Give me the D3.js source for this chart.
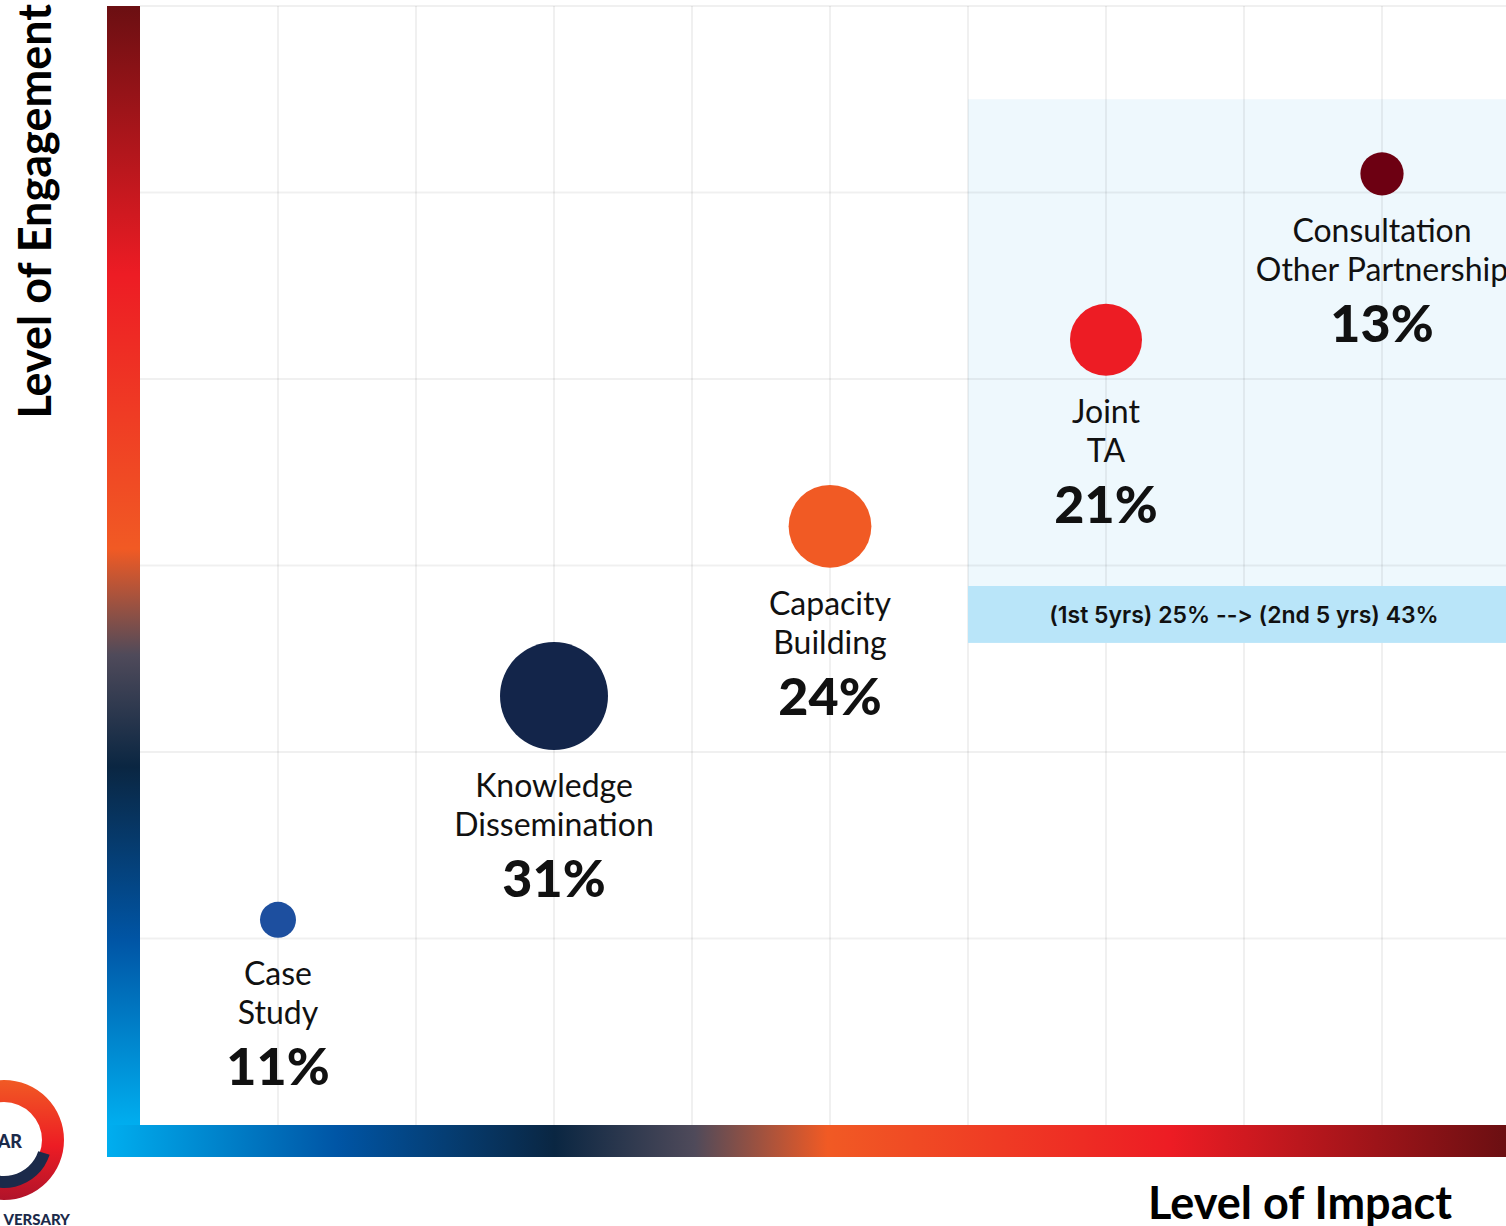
<!DOCTYPE html>
<html>
<head>
<meta charset="utf-8">
<script src="https://cdn.jsdelivr.net/npm/d3@7"></script>
<style>
  html, body { margin: 0; padding: 0; background: #fff; overflow: hidden; }
  svg { display: block; }
</style>
</head>
<body>
<svg width="1506" height="1226"></svg>
<script>
// data
var categories = [["Case", "Study"], ["Knowledge", "Dissemination"], ["Capacity", "Building"], ["Joint", "TA"], ["Consultation", "Other Partnership"]];
var impact = [1, 3, 5, 7, 9];
var engagement = [1.1, 2.3, 3.21, 4.21, 5.1];
var share = [11, 31, 24, 21, 13];
var colors = ["#1d4f9f", "#13254a", "#f15a24", "#ed1c24", "#6d0012"];
var bannerText = "(1st 5yrs) 25% --> (2nd 5 yrs) 43%";

var svg = d3.select("svg"),
    plotL = 140, plotR = 1520, plotT = 6, plotB = 1125;

var x = d3.scaleLinear().domain([0, 10]).range([plotL, plotR]);
var y = d3.scaleLinear().domain([0, 6]).range([plotB, plotT]);
var r = d3.scaleLinear().domain([11, 31]).range([18, 54]);

var defs = svg.append("defs");
var stops = [
  [0, "#00aeef"], [0.165, "#0055a5"], [0.32, "#0a2642"],
  [0.42, "#4f4a5a"], [0.515, "#f15a24"], [0.76, "#ed1c24"], [1, "#6b0f12"]
];
var gv = defs.append("linearGradient").attr("id", "gv")
    .attr("gradientUnits", "userSpaceOnUse")
    .attr("x1", 0).attr("x2", 0).attr("y1", plotB).attr("y2", plotT);
var gh = defs.append("linearGradient").attr("id", "gh")
    .attr("gradientUnits", "userSpaceOnUse")
    .attr("x1", 107).attr("x2", 1506).attr("y1", 0).attr("y2", 0);
[gv, gh].forEach(function(g) {
  g.selectAll("stop").data(stops).enter().append("stop")
    .attr("offset", function(d) { return d[0]; })
    .attr("stop-color", function(d) { return d[1]; });
});

// highlighted zone
svg.append("rect")
    .attr("x", x(6)).attr("y", y(5.5))
    .attr("width", x(10) - x(6)).attr("height", y(2.89) - y(5.5))
    .attr("fill", "#eef8fd");

// grid
var g = svg.append("g");
g.selectAll(".vx").data(d3.range(1, 11)).enter().append("line")
    .attr("x1", function(d) { return x(d); }).attr("x2", function(d) { return x(d); })
    .attr("y1", y(6)).attr("y2", y(0))
    .attr("stroke", "#000").attr("stroke-opacity", 0.06).attr("stroke-width", 2);
g.selectAll(".hy").data(d3.range(1, 7)).enter().append("line")
    .attr("x1", x(0)).attr("x2", x(10))
    .attr("y1", function(d) { return y(d); }).attr("y2", function(d) { return y(d); })
    .attr("stroke", "#000").attr("stroke-opacity", 0.06).attr("stroke-width", 2);

// banner
svg.append("rect")
    .attr("x", x(6)).attr("y", y(2.89))
    .attr("width", x(10) - x(6)).attr("height", y(2.585) - y(2.89))
    .attr("fill", "#b9e5f9");
svg.append("text")
    .attr("x", (x(6) + x(10)) / 2).attr("y", (y(2.89) + y(2.585)) / 2 + 9)
    .attr("text-anchor", "middle")
    .style("font-family", "Inter, 'Noto Sans', sans-serif")
    .style("font-weight", 600).style("font-size", "23px")
    .style("font-feature-settings", "'calt' 0, 'liga' 0")
    .style("font-variant-ligatures", "none")
    .attr("fill", "#111")
    .text(bannerText);

// gradient axes
svg.append("rect").attr("x", 107).attr("y", plotT).attr("width", plotL - 107).attr("height", plotB - plotT)
    .attr("fill", "url(#gv)");
svg.append("rect").attr("x", 107).attr("y", plotB).attr("width", 1506 - 107).attr("height", 32)
    .attr("fill", "url(#gh)");

// bubbles
var idx = d3.range(categories.length);
var node = svg.selectAll(".node").data(idx).enter().append("g")
    .attr("class", "node")
    .attr("transform", function(i) { return "translate(" + x(impact[i]) + "," + y(engagement[i]) + ")"; });

node.append("circle")
    .attr("r", function(i) { return r(share[i]); })
    .attr("fill", function(i) { return colors[i]; });

node.each(function(i) {
  var el = d3.select(this), base = r(share[i]) + 47;
  categories[i].forEach(function(line, k) {
    el.append("text")
      .attr("y", base + k * 39)
      .attr("text-anchor", "middle")
      .style("font-family", "Lato, sans-serif").style("font-size", "32px")
      .attr("fill", "#111")
      .text(line);
  });
  el.append("text")
    .attr("y", base + 39 + 61)
    .attr("text-anchor", "middle")
    .style("font-family", "Lato, sans-serif").style("font-size", "52px").style("font-weight", 900)
    .attr("fill", "#111")
    .text(share[i] + "%");
});

// axis titles
svg.append("text")
    .attr("transform", "translate(51,4) rotate(-90)")
    .attr("text-anchor", "end")
    .style("font-family", "Lato, sans-serif").style("font-size", "45px").style("font-weight", 700)
    .attr("fill", "#000")
    .text("Level of Engagement");
svg.append("text")
    .attr("x", 1300).attr("y", 1219)
    .attr("text-anchor", "middle")
    .style("font-family", "Lato, sans-serif").style("font-size", "45px").style("font-weight", 700)
    .attr("fill", "#000")
    .text("Level of Impact");

// cropped anniversary badge
var logo = svg.append("g").attr("transform", "translate(4,1140)");
var lg = defs.append("linearGradient").attr("id", "lg").attr("x1", 0).attr("x2", 0).attr("y1", 0).attr("y2", 1);
lg.append("stop").attr("offset", 0).attr("stop-color", "#f15a24");
lg.append("stop").attr("offset", 0.55).attr("stop-color", "#ed1c24");
lg.append("stop").attr("offset", 1).attr("stop-color", "#b0132a");
logo.append("path")
    .attr("d", d3.arc().innerRadius(38).outerRadius(60).startAngle(-Math.PI).endAngle(Math.PI)())
    .attr("fill", "url(#lg)");
logo.append("path")
    .attr("d", d3.arc().innerRadius(36).outerRadius(48).startAngle(Math.PI * 0.6).endAngle(Math.PI * 1.25)())
    .attr("fill", "#1b2a4a");
logo.append("text").attr("x", 18).attr("y", 8).attr("text-anchor", "end")
    .style("font-family", "Lato, sans-serif").style("font-size", "18px").style("font-weight", 900)
    .attr("fill", "#1b2a4a").text("AR");
logo.append("text").attr("x", 66).attr("y", 85).attr("text-anchor", "end")
    .style("font-family", "Lato, sans-serif").style("font-size", "15px").style("font-weight", 900)
    .attr("fill", "#1b2a4a").text("VERSARY");
</script>
</body>
</html>
